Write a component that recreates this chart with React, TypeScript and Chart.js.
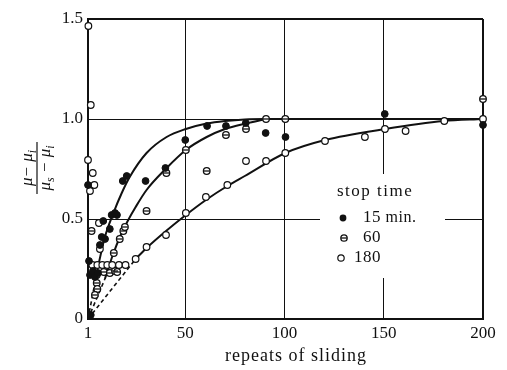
import { useEffect, useRef } from "react";
import { Chart, registerables } from "chart.js";

Chart.register(...registerables);

// ---- axis ----
const xTicks = [1, 50, 100, 150, 200];
const yTicks = [0, 0.5, 1.0, 1.5];
const yTickLabels = ["0", "0.5", "1.0", "1.5"];
const xTitle = "repeats of sliding";

// ---- legend ----
const legendTitle = "stop time";
const legendNumbers = ["15", "60", "180"];
const legendUnit = " min.";

// ---- measured points (repeats, (mu-mu_i)/(mu_s-mu_i)) ----
const stop15: [number, number][] = [
  [1, 0.67], [1.5, 0.29], [2, 0.22], [3.5, 0.24], [4.5, 0.21], [6, 0.23], [2.4, 0.02],
  [7, 0.37], [7.9, 0.41], [9.6, 0.4], [12, 0.45], [8.7, 0.49], [12.9, 0.52], [14.6, 0.53],
  [15.6, 0.52], [18.5, 0.69], [20.5, 0.715], [30, 0.69], [40, 0.755], [50, 0.895],
  [61, 0.965], [70.5, 0.965], [80.5, 0.98], [90.5, 0.93], [100.5, 0.91], [150.5, 1.025],
  [200, 0.97],
];
const stop60: [number, number][] = [
  [2.8, 0.44], [5.4, 0.22], [5.4, 0.18], [5.7, 0.15], [4.5, 0.12], [9, 0.235], [12, 0.23],
  [14.6, 0.24], [15.7, 0.235], [14, 0.33], [17, 0.4], [18.8, 0.44], [19.6, 0.46],
  [30.5, 0.54], [40.5, 0.73], [50.3, 0.845], [60.8, 0.74], [70.5, 0.92], [80.6, 0.95],
  [90.7, 1.0], [100.4, 1.0], [200, 1.1],
];
const stop180: [number, number][] = [
  [1.2, 1.465], [2.4, 1.07], [1, 0.795], [3.4, 0.73], [4.2, 0.67], [2, 0.64],
  [6.5, 0.48], [7, 0.35], [3.2, 0.27], [5.7, 0.27], [8.2, 0.27], [10.7, 0.27],
  [13.2, 0.27], [16.6, 0.27], [19.9, 0.27], [25, 0.3], [30.5, 0.36], [40.3, 0.42],
  [50.3, 0.53], [60.4, 0.61], [71.2, 0.67], [80.6, 0.79], [90.7, 0.79], [100.4, 0.83],
  [120.4, 0.89], [140.5, 0.91], [150.6, 0.95], [161, 0.94], [180.5, 0.99], [200, 1.0],
];

// ---- fitted curves ----
const curve15: [number, number][] = [
  [6, 0.26], [9.5, 0.41], [13.8, 0.53], [18, 0.63], [22, 0.71], [30.5, 0.83],
  [40.6, 0.91], [50.3, 0.95], [60.8, 0.977], [70, 0.99], [80, 0.998], [90, 1.0], [200, 1.0],
];
const curve60: [number, number][] = [
  [9.5, 0.2], [13.5, 0.32], [17.5, 0.42], [21, 0.49], [25, 0.56], [30.5, 0.645],
  [40.6, 0.755], [50.3, 0.845], [60.8, 0.91], [70, 0.95], [80.6, 0.978], [90.7, 1.0],
];
const curve180: [number, number][] = [
  [25, 0.3], [30.5, 0.355], [40.3, 0.44], [50.3, 0.52], [60.4, 0.595], [71.2, 0.665],
  [80, 0.715], [100.4, 0.83], [120.4, 0.895], [150.6, 0.95], [180, 0.99], [200, 1.0],
];
const dash15: [number, number][] = [[1, 0], [6, 0.26]];
const dash60: [number, number][] = [[1, 0], [9.5, 0.2]];
const dash180: [number, number][] = [[1, 0], [25, 0.3]];

const INK = "#111111";
const SERIF = "'Liberation Serif', 'Times New Roman', serif";

const toXY = (a: [number, number][]) => a.map(([x, y]) => ({ x, y }));

type Seg = { t: string; sub?: boolean };

function drawSegs(ctx: CanvasRenderingContext2D, segs: Seg[], cx: number, y: number, size: number) {
  const main = `italic ${size}px ${SERIF}`;
  const small = `italic ${Math.round(size * 0.68)}px ${SERIF}`;
  let w = 0;
  for (const s of segs) {
    ctx.font = s.sub ? small : main;
    w += ctx.measureText(s.t).width;
  }
  let x = cx - w / 2;
  for (const s of segs) {
    ctx.font = s.sub ? small : main;
    ctx.fillText(s.t, x, s.sub ? y + size * 0.25 : y);
    x += ctx.measureText(s.t).width;
  }
  return w;
}

export default function App() {
  const ref = useRef<HTMLCanvasElement | null>(null);

  useEffect(() => {
    if (!ref.current) return;

    const decor = {
      id: "decor",
      beforeDatasetsDraw(chart: any) {
        const ctx = chart.ctx as CanvasRenderingContext2D;
        ctx.save();
        ctx.fillStyle = "#fff";
        ctx.fillRect(320, 174, 125, 104);
        ctx.restore();
      },
      afterDraw(chart: any) {
        const ctx = chart.ctx as CanvasRenderingContext2D;
        ctx.save();
        ctx.fillStyle = INK;
        ctx.strokeStyle = INK;
        // x title
        (ctx as any).letterSpacing = "1px";
        ctx.font = `18px ${SERIF}`;
        ctx.textAlign = "center";
        ctx.textBaseline = "alphabetic";
        ctx.fillText(xTitle, 296, 361);
        // legend
        ctx.textAlign = "left";
        ctx.textBaseline = "middle";
        (ctx as any).letterSpacing = "1.5px";
        ctx.font = `17px ${SERIF}`;
        ctx.fillText(legendTitle, 337, 192);
        (ctx as any).letterSpacing = "0.5px";
        const ys = [218, 238, 258];
        legendNumbers.forEach((n, i) => {
          ctx.font = `17px ${SERIF}`;
          ctx.textAlign = "right";
          ctx.fillText(n, 381, ys[i]);
          if (i === 0) {
            ctx.textAlign = "left";
            ctx.font = `16px ${SERIF}`;
            ctx.fillText(legendUnit, 381, ys[i]);
          }
        });
        (ctx as any).letterSpacing = "0px";
        // legend markers
        ctx.beginPath();
        ctx.arc(343, 218, 3.4, 0, Math.PI * 2);
        ctx.fill();
        ctx.lineWidth = 1.3;
        ctx.fillStyle = "#fff";
        ctx.beginPath();
        ctx.arc(344, 238, 3.2, 0, Math.PI * 2);
        ctx.fill();
        ctx.stroke();
        ctx.beginPath();
        ctx.moveTo(341, 238);
        ctx.lineTo(347, 238);
        ctx.stroke();
        ctx.beginPath();
        ctx.lineWidth = 1.2;
        ctx.arc(341, 258, 3.2, 0, Math.PI * 2);
        ctx.fill();
        ctx.stroke();
        // y title (fraction), rotated
        ctx.fillStyle = INK;
        ctx.translate(37, 168);
        ctx.rotate(-Math.PI / 2);
        ctx.textAlign = "left";
        ctx.textBaseline = "alphabetic";
        drawSegs(ctx, [{ t: "μ" }, { t: "−" }, { t: " μ" }, { t: "i", sub: true }], 0, -5, 17);
        ctx.lineWidth = 1.2;
        ctx.beginPath();
        ctx.moveTo(-26, 0);
        ctx.lineTo(26, 0);
        ctx.stroke();
        drawSegs(ctx, [{ t: "μ" }, { t: "s", sub: true }, { t: " − " }, { t: "μ" }, { t: "i", sub: true }], 0, 13, 17);
        ctx.restore();
      },
    };

    const pts = (data: [number, number][], extra: any) => ({
      data: toXY(data),
      showLine: false,
      order: 0,
      clip: false,
      pointRadius: 3.4,
      pointHoverRadius: 3.4,
      borderColor: INK,
      ...extra,
    });
    const line = (data: [number, number][], dashed: boolean) => ({
      data: toXY(data),
      showLine: true,
      order: 2,
      clip: false,
      pointRadius: 0,
      pointHoverRadius: 0,
      borderColor: INK,
      borderWidth: dashed ? 1.6 : 2,
      borderDash: dashed ? [4, 3] : [],
      cubicInterpolationMode: "monotone",
      fill: false,
    });

    const tickFont = { family: SERIF, size: 17 };

    const chart = new Chart(ref.current, {
      type: "scatter",
      data: {
        datasets: [
          pts(stop15, { label: "15", pointStyle: "circle", backgroundColor: INK, borderWidth: 1 }),
          pts(stop60, { label: "60 bar", pointStyle: "line", pointRadius: 3, borderWidth: 1.3, order: 0 }),
          pts(stop60, { label: "60", pointStyle: "circle", backgroundColor: "#fff", borderWidth: 1.3, pointRadius: 3.3, order: 1 }),
          pts(stop180, { label: "180", pointStyle: "circle", backgroundColor: "#fff", borderWidth: 1.2, pointRadius: 3.3 }),
          line(curve15, false),
          line(curve60, false),
          line(curve180, false),
          line(dash15, true),
          line(dash60, true),
          line(dash180, true),
        ] as any,
      },
      options: {
        responsive: false,
        animation: false,
        events: [],
        layout: { padding: { top: 19, right: 24, left: 0, bottom: 0 } },
        plugins: { legend: { display: false }, tooltip: { enabled: false } },
        scales: {
          x: {
            type: "linear",
            min: 1,
            max: 200,
            afterBuildTicks: (s: any) => {
              s.ticks = xTicks.map((v) => ({ value: v }));
            },
            afterFit: (s: any) => {
              s.height = 51;
            },
            ticks: { font: tickFont, color: INK, padding: 4, maxRotation: 0, autoSkip: false },
            grid: {
              color: INK,
              drawTicks: false,
              lineWidth: (c: any) => (c.tick && (c.tick.value === 1 || c.tick.value === 200) ? 2 : 1),
            },
            border: { display: true, width: 2, color: INK },
          },
          y: {
            type: "linear",
            min: 0,
            max: 1.5,
            afterBuildTicks: (s: any) => {
              s.ticks = yTicks.map((v) => ({ value: v }));
            },
            afterFit: (s: any) => {
              s.width = 88;
            },
            ticks: {
              font: tickFont,
              color: INK,
              padding: 5,
              autoSkip: false,
              callback: (v: any) => yTickLabels[yTicks.indexOf(Number(v))] ?? "",
            },
            grid: {
              color: INK,
              drawTicks: false,
              lineWidth: (c: any) => (c.tick && (c.tick.value === 0 || c.tick.value === 1.5) ? 2 : 1),
            },
            border: { display: true, width: 2, color: INK },
          },
        },
      } as any,
      plugins: [decor],
    });
    return () => chart.destroy();
  }, []);

  return (
    <div style={{ position: "absolute", left: 0, top: 0, width: 507, height: 370, background: "#fff" }}>
      <canvas ref={ref} width={507} height={370} />
    </div>
  );
}
